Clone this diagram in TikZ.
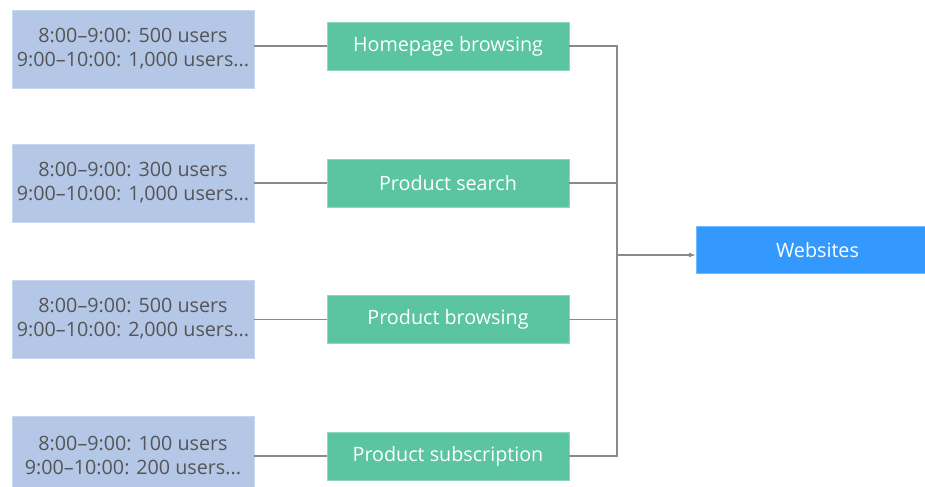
\documentclass[tikz,border=0pt]{standalone}
\usepackage{fontspec}
\setmainfont{Open Sans}
\usetikzlibrary{arrows.meta}
\definecolor{slotfill}{HTML}{B4C7E7}
\definecolor{slotline}{HTML}{C8D6EE}
\definecolor{pagefill}{HTML}{5BC4A0}
\definecolor{pageline}{HTML}{8ED8BE}
\definecolor{sitefill}{HTML}{3399FF}
\definecolor{linkgray}{HTML}{8A8A8A}
\definecolor{textgray}{HTML}{555555}
\tikzset{
  slot/.style={draw=slotline,fill=slotfill,text=textgray,align=center,
    minimum width=181.5pt,minimum height=58.5pt,inner sep=0pt,
    font=\fontsize{14.8}{18}\selectfont},
  pagebox/.style={draw=pageline,fill=pagefill,text=white,
    minimum width=181.5pt,minimum height=36pt,inner sep=0pt,
    font=\fontsize{14.8}{17}\selectfont},
  sitebox/.style={draw=sitefill!70,fill=sitefill,text=white,
    minimum width=182pt,minimum height=35.25pt,inner sep=0pt,
    font=\fontsize{14.8}{17}\selectfont},
  link/.style={draw=linkgray,line width=0.8pt},
}
\begin{document}
\begin{tikzpicture}[x=0.75pt,y=-0.75pt]
  \useasboundingbox (0,0) rectangle (925,486);
  % user counts per time slot
  \node[slot] (s1) at (133,49) {8:00–9:00: 500 users\\9:00–10:00: 1,000 users...};
  \node[slot] (s2) at (133,183) {8:00–9:00: 300 users\\9:00–10:00: 1,000 users...};
  \node[slot] (s3) at (133,319) {8:00–9:00: 500 users\\9:00–10:00: 2,000 users...};
  \node[slot] (s4) at (133,455) {8:00–9:00: 100 users\\9:00–10:00: 200 users...};
  % actions
  \node[pagebox] (p1) at (448,46) {Homepage browsing};
  \node[pagebox] (p2) at (448,183) {Product search};
  \node[pagebox] (p3) at (448,319.5) {Product browsing};
  \node[pagebox] (p4) at (448,456) {Product subscription};
  \node[sitebox] (web) at (817.5,250) {Websites};
  \coordinate (bus) at (617,255);
  \foreach \i in {1,...,4}{
    \draw[link] (s\i.east |- p\i) -- (p\i.west);
    \draw[link] (p\i.east) -| (bus);
  }
  \draw[link,-{Latex[length=5pt,width=3.5pt]}] (bus) -- (web.west |- bus);
\end{tikzpicture}
\end{document}
